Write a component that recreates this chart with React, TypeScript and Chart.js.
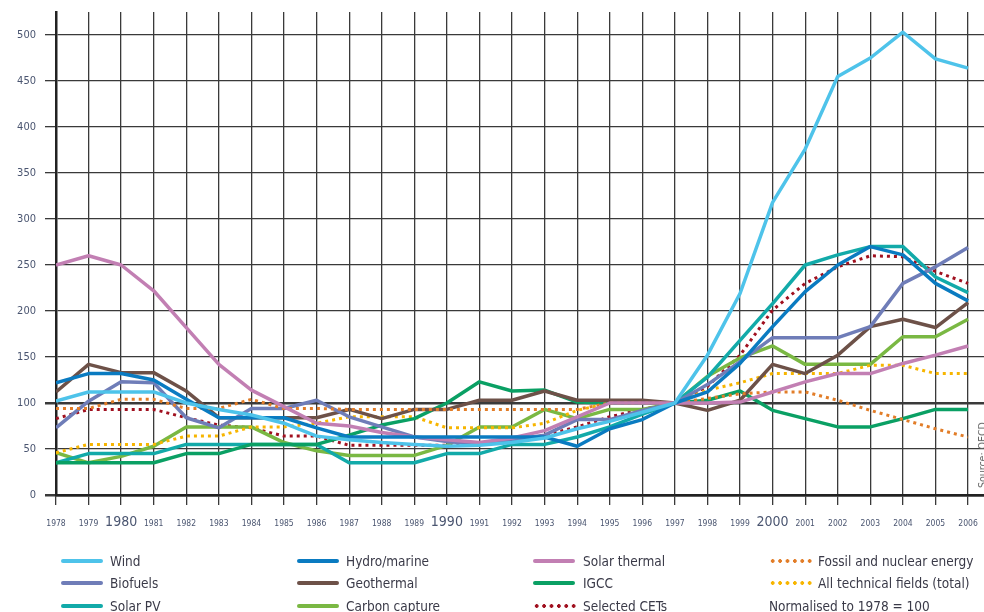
import React, { useEffect, useRef } from "react";
import { Chart, registerables } from "chart.js";

Chart.register(...registerables);

const FONT = '"Liberation Sans Narrow", "DejaVu Sans Condensed", "Roboto Condensed", "Noto Sans", sans-serif';

const years = [1978, 1979, 1980, 1981, 1982, 1983, 1984, 1985, 1986, 1987, 1988, 1989, 1990, 1991, 1992, 1993, 1994, 1995, 1996, 1997, 1998, 1999, 2000, 2001, 2002, 2003, 2004, 2005, 2006];
const yTicks = [0, 50, 100, 150, 200, 250, 300, 350, 400, 450, 500];

const wind = [102, 112, 112, 112, 100, 93, 87, 78, 64, 60, 57, 55, 53, 54, 57, 62, 72, 80, 90, 100, 152, 219, 318, 376, 455, 475, 503, 474, 464];
const hydroMarine = [122, 132, 132, 125, 104, 84, 84, 84, 73, 63, 63, 63, 63, 63, 63, 63, 53, 72, 82, 100, 112, 143, 183, 221, 250, 270, 261, 230, 211];
const solarThermal = [250, 260, 250, 222, 182, 142, 114, 96, 78, 75, 68, 63, 60, 57, 62, 70, 85, 100, 100, 100, 100, 101, 112, 123, 132, 132, 143, 152, 162];
const fossilNuclear = [94, 94, 104, 104, 94, 94, 104, 94, 94, 93, 93, 93, 93, 93, 93, 93, 93, 100, 100, 100, 105, 110, 112, 112, 103, 92, 82, 72, 63];
const biofuels = [73, 102, 123, 122, 84, 73, 94, 94, 103, 85, 74, 63, 58, 56, 60, 65, 82, 82, 92, 100, 120, 145, 171, 171, 171, 183, 230, 248, 269];
const geothermal = [112, 142, 133, 133, 113, 84, 84, 84, 84, 93, 83, 93, 93, 103, 103, 113, 103, 103, 103, 100, 92, 103, 142, 132, 152, 183, 191, 182, 209];
const igcc = [35, 35, 35, 35, 45, 45, 55, 55, 55, 65, 76, 83, 100, 123, 113, 114, 101, 100, 100, 100, 103, 113, 92, 83, 74, 74, 83, 93, 93];
const allTechnical = [46, 55, 55, 55, 64, 64, 74, 74, 78, 85, 85, 85, 73, 73, 73, 78, 92, 100, 100, 100, 114, 122, 132, 132, 132, 141, 141, 132, 132];
const solarPV = [35, 45, 45, 45, 55, 55, 55, 55, 55, 35, 35, 35, 45, 45, 55, 55, 63, 74, 88, 100, 128, 168, 208, 250, 261, 270, 270, 237, 220];
const carbonCapture = [46, 35, 42, 53, 74, 74, 74, 57, 48, 43, 43, 43, 54, 74, 74, 93, 83, 93, 93, 100, 129, 149, 162, 142, 142, 142, 172, 172, 191];
const selectedCETs = [83, 93, 93, 93, 84, 76, 73, 64, 64, 54, 54, 54, 54, 57, 60, 65, 74, 85, 93, 100, 118, 152, 201, 230, 248, 260, 259, 243, 230];

type Series = { label: string; values: number[]; color: string; dotted: boolean; row: number; col: number };

const series: Series[] = [
  { label: "Wind", values: wind, color: "#4ec3ea", dotted: false, row: 0, col: 0 },
  { label: "Hydro/marine", values: hydroMarine, color: "#0a7bc1", dotted: false, row: 0, col: 1 },
  { label: "Solar thermal", values: solarThermal, color: "#c27fb3", dotted: false, row: 0, col: 2 },
  { label: "Fossil and nuclear energy", values: fossilNuclear, color: "#e27d28", dotted: true, row: 0, col: 3 },
  { label: "Biofuels", values: biofuels, color: "#6f7db8", dotted: false, row: 1, col: 0 },
  { label: "Geothermal", values: geothermal, color: "#6d5148", dotted: false, row: 1, col: 1 },
  { label: "IGCC", values: igcc, color: "#0aa064", dotted: false, row: 1, col: 2 },
  { label: "All technical fields (total)", values: allTechnical, color: "#f7b500", dotted: true, row: 1, col: 3 },
  { label: "Solar PV", values: solarPV, color: "#12aaa9", dotted: false, row: 2, col: 0 },
  { label: "Carbon capture", values: carbonCapture, color: "#7ab843", dotted: false, row: 2, col: 1 },
  { label: "Selected CETs", values: selectedCETs, color: "#a0101f", dotted: true, row: 2, col: 2 },
];

const noteText = "Normalised to 1978 = 100";
const sourceText = "Source: OECD";

const legendCols = [
  { sample: 61, text: 110 },
  { sample: 297, text: 346 },
  { sample: 533, text: 583 },
  { sample: 769, text: 818 },
];
const legendRows = [561, 583, 606];

export default function App() {
  const ref = useRef<HTMLCanvasElement | null>(null);

  useEffect(() => {
    if (!ref.current) return;
    Chart.defaults.font.family = FONT;
    const chart = new Chart(ref.current, {
      type: "line",
      data: {
        datasets: series.map((s) => ({
          label: s.label,
          data: years.map((y, i) => ({ x: y, y: s.values[i] })),
          borderColor: s.color,
          backgroundColor: s.color,
          borderWidth: s.dotted ? 3 : 3.5,
          borderDash: s.dotted ? [3, 4] : [],
          borderCapStyle: "butt",
          borderJoinStyle: "round",
          pointRadius: 0,
          tension: 0,
          fill: false,
        })),
      },
      options: {
        animation: false,
        responsive: false,
        maintainAspectRatio: false,
        layout: { padding: { top: 12, left: 0, right: 0, bottom: 0 } },
        plugins: { legend: { display: false }, tooltip: { enabled: false } },
        scales: {
          x: {
            type: "linear",
            min: 1978,
            max: 2006.49,
            afterBuildTicks: (s: any) => {
              s.ticks = years.map((v) => ({ value: v }));
            },
            afterFit: (s: any) => {
              s.height = 117;
              s.paddingLeft = 0;
              s.paddingRight = 0;
            },
            ticks: {
              autoSkip: false,
              maxRotation: 0,
              minRotation: 0,
              padding: 14,
              color: "#4a5570",
              font: (c: any) => {
                const big = c.tick && c.tick.value % 10 === 0;
                return { family: FONT, size: big ? 14 : 8.5, lineHeight: big ? 0.55 : 1.2 };
              },
              callback: (v: any) => String(v),
            },
            grid: { color: "#3a3a3a", lineWidth: 1.3, tickLength: 10, drawTicks: true },
            border: { display: true, color: "#222", width: 2.5 },
          },
          y: {
            min: 0,
            max: 525,
            afterBuildTicks: (s: any) => {
              s.ticks = yTicks.map((v) => ({ value: v }));
            },
            afterFit: (s: any) => {
              s.width = 56;
              s.paddingTop = 0;
              s.paddingBottom = 0;
            },
            ticks: {
              padding: 9,
              color: "#4a5570",
              font: { family: FONT, size: 11 },
              callback: (v: any) => String(v),
            },
            grid: {
              color: "#3a3a3a",
              lineWidth: (c: any) => (c.tick && (c.tick.value === 100 || c.tick.value === 0) ? 2.5 : 1.3),
              tickLength: 11,
            },
            border: { display: true, color: "#222", width: 2.5 },
          },
        },
      },
    } as any);
    return () => chart.destroy();
  }, []);

  return (
    <div style={{ position: "absolute", left: 0, top: 0, width: 984, height: 612, background: "#fff", fontFamily: FONT, overflow: "hidden" }}>
      <canvas ref={ref} width={984} height={612} style={{ display: "block", width: 984, height: 612 }} />
      {series.map((s) => {
        const col = legendCols[s.col];
        const cy = legendRows[s.row];
        return (
          <React.Fragment key={s.label}>
            {s.dotted ? (
              <div
                style={{
                  position: "absolute",
                  left: col.sample,
                  top: cy - 3,
                  width: 44,
                  height: 6,
                  backgroundImage: `radial-gradient(circle, ${s.color} 1.6px, transparent 2.1px)`,
                  backgroundSize: "7.4px 6px",
                  backgroundRepeat: "repeat-x",
                }}
              />
            ) : (
              <div
                style={{
                  position: "absolute",
                  left: col.sample,
                  top: cy - 2,
                  width: 42,
                  height: 4,
                  borderRadius: 2,
                  background: s.color,
                }}
              />
            )}
            <div
              style={{
                position: "absolute",
                left: col.text,
                top: cy - 10,
                height: 20,
                lineHeight: "20px",
                fontSize: 13.5,
                color: "#3a3a48",
                whiteSpace: "nowrap",
              }}
            >
              {s.label}
            </div>
          </React.Fragment>
        );
      })}
      <div
        style={{
          position: "absolute",
          left: legendCols[3].sample,
          top: legendRows[2] - 10,
          height: 20,
          lineHeight: "20px",
          fontSize: 13.5,
          color: "#3a3a48",
          whiteSpace: "nowrap",
        }}
      >
        {noteText}
      </div>
      <div
        style={{
          position: "absolute",
          left: 982,
          top: 455,
          transform: "translate(-50%, -50%) rotate(-90deg)",
          fontSize: 10.5,
          color: "#666",
          whiteSpace: "nowrap",
        }}
      >
        {sourceText}
      </div>
    </div>
  );
}
